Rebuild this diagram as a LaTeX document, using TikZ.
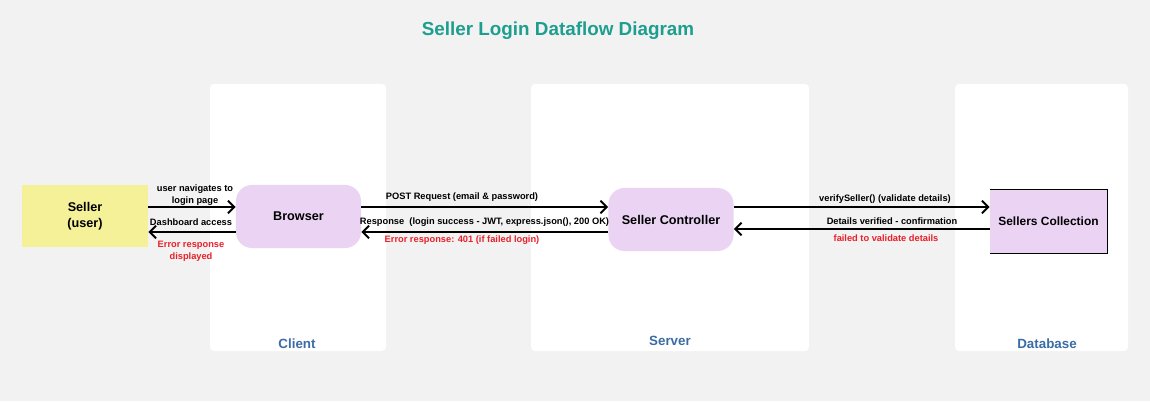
\documentclass[tikz,border=0pt]{standalone}
\usepackage{fontspec}
\setmainfont{Liberation Sans}
\usetikzlibrary{positioning,arrows.meta}

\definecolor{bgrey}{HTML}{F2F2F2}
\definecolor{lilac}{HTML}{EBD4F3}
\definecolor{sticky}{HTML}{F4F198}
\definecolor{titleteal}{HTML}{1E9E8E}
\definecolor{panelblue}{HTML}{3B6CA6}
\definecolor{errred}{HTML}{E8202A}

\tikzset{
  panel/.style={fill=white, rounded corners=0.1cm, draw=none},
  paneltag/.style={font=\fontsize{9.5}{11}\selectfont\bfseries, text=panelblue},
  proc/.style={fill=lilac, rounded corners=0.4cm, minimum width=3.125cm,
    minimum height=1.575cm, font=\fontsize{9}{11}\selectfont\bfseries},
  flow/.style={line width=1.4pt, -{Straight Barb[length=4.5pt,width=9pt]}},
  msg/.style={font=\fontsize{6.6}{8.5}\selectfont\bfseries, align=center, inner sep=0pt},
  errmsg/.style={msg, text=errred}
}

\begin{document}
\begin{tikzpicture}[x=0.025cm, y=-0.025cm]

% canvas
\fill[bgrey] (0,0) rectangle (1150,401);
\useasboundingbox (0,0) rectangle (1150,401);

\node[font=\fontsize{13.4}{16}\selectfont\bfseries, text=titleteal] (title) at (558,31) {Seller Login Dataflow Diagram};

%%%%%%%%%%%%%%%%%%%
% Swimlane panels

\fill[panel] (210,84) rectangle (386,351);
\fill[panel] (531,84) rectangle (809,351);
\fill[panel] (955,84) rectangle (1128,351);

\node[paneltag] (client_tag) at (297,344) {Client};
\node[paneltag] (server_tag) at (670,341) {Server};
\node[paneltag] (db_tag) at (1047,344) {Database};

%%%%%%%%%%%%%%%%%%%
% Actors and processes

\node[fill=sticky,
	minimum width=3.15cm,
	minimum height=1.55cm,
	align=center,
	font=\fontsize{9}{11}\selectfont\bfseries] (seller) at (85,216) {Seller\\(user)};

\node[proc] (browser) at (298.5,216.5) {Browser};

\node[proc] (controller) at (671,219.5) {Seller Controller};

\node[fill=lilac,
	minimum width=2.925cm,
	minimum height=1.575cm,
	font=\fontsize{8.5}{10}\selectfont\bfseries] (sellers_coll) at (1048.5,221.5) {Sellers Collection};
\draw[line width=0.8pt] (sellers_coll.north west) -- (sellers_coll.north east)
    -- (sellers_coll.south east) -- (sellers_coll.south west);

%%%%%%%%%%%%%%%%%%%
% Seller <-> Browser

\draw[flow] (seller.east |- 0,207) -- (browser.west |- 0,207);
\draw[flow] (browser.west |- 0,232) -- (seller.east |- 0,232);

\node[msg] (nav_msg) at (195,195) {user navigates to\\login page};
\node[msg] (dash_msg) at (191,222) {Dashboard access};
\node[errmsg] (err_disp) at (191,251) {Error response\\displayed};

%%%%%%%%%%%%%%%%%%%
% Browser <-> Controller

\draw[flow] (browser.east |- 0,207) -- (controller.west |- 0,207);
\draw[flow] (controller.west |- 0,232) -- (browser.east |- 0,232);

\node[msg] (post_msg) at (462,197) {POST Request (email \& password)};
\node[msg] (resp_msg) at (484.5,222) {Response~~(login success - JWT, express.json(), 200 OK)};
\node[errmsg] (err_401) at (462,240) {Error response: 401 (if failed login)};

%%%%%%%%%%%%%%%%%%%
% Controller <-> Collection

\draw[flow] (controller.east |- 0,207) -- (sellers_coll.west |- 0,207);
\draw[flow] (sellers_coll.west |- 0,229) -- (controller.east |- 0,229);

\node[msg] (verify_msg) at (885,199) {verifySeller() (validate details)};
\node[msg] (ok_msg) at (892,221) {Details verified - confirmation};
\node[errmsg] (fail_msg) at (886,238) {failed to validate details};

\end{tikzpicture}
\end{document}
